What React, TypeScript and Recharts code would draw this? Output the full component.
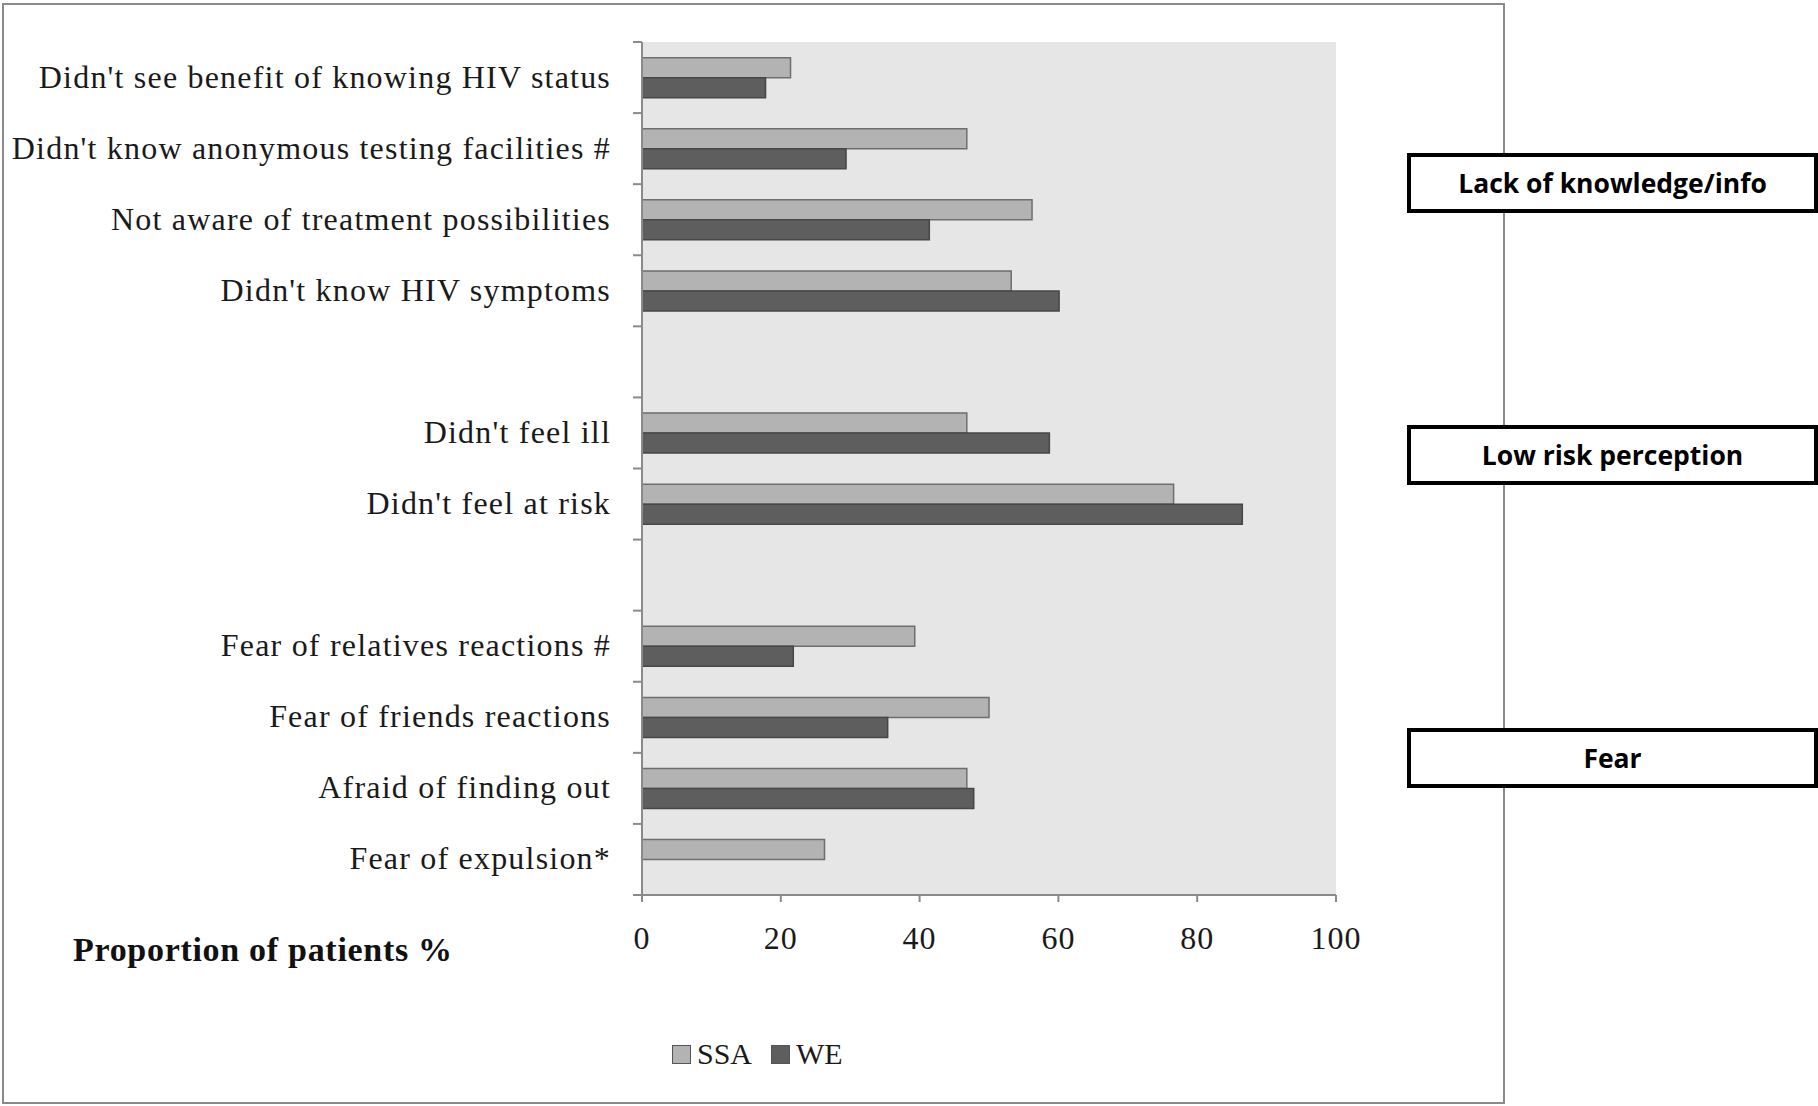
import React from "react";
import { BarChart, Bar, XAxis, YAxis, CartesianGrid, Legend } from "recharts";

const categories = [
  "Didn't see benefit of knowing HIV status",
  "Didn't know anonymous testing facilities #",
  "Not aware of treatment possibilities",
  "Didn't know HIV symptoms",
  " ",
  "Didn't feel ill",
  "Didn't feel at risk",
  "  ",
  "Fear of relatives reactions #",
  "Fear of friends reactions",
  "Afraid of finding out",
  "Fear of expulsion*",
];
const ssa = [21.4, 46.8, 56.2, 53.2, null, 46.8, 76.6, null, 39.3, 50.0, 46.8, 26.3];
const we = [17.8, 29.4, 41.4, 60.1, null, 58.7, 86.5, null, 21.8, 35.4, 47.8, null];
const xTicks = [0, 20, 40, 60, 80, 100];
const groups = ["Lack of knowledge/info", "Low risk perception", "Fear"];

const data = categories.map((name, i) => ({ name, SSA: ssa[i], WE: we[i] }));

const W = 1818;
const H = 1106;
const PLOT_TOP = 42;
const PLOT_BOTTOM = 895;
const PLOT_LEFT = 642;
const PLOT_RIGHT = 1336;
const AXIS = "#8a8a8a";
const SERIF = "'Liberation Serif', serif";

const YTick = (props: any) => {
  const { x, y, payload, index } = props;
  const band = (PLOT_BOTTOM - PLOT_TOP) / categories.length;
  const ax = x + 31;
  return (
    <g>
      <line x1={ax - 9} x2={ax} y1={y - band / 2} y2={y - band / 2} stroke={AXIS} strokeWidth={2} />
      {index === categories.length - 1 && (
        <line x1={ax - 9} x2={ax} y1={y + band / 2} y2={y + band / 2} stroke={AXIS} strokeWidth={2} />
      )}
      <text
        x={x}
        y={y}
        dy={10}
        textAnchor="end"
        fill="#1a1a1a"
        style={{ fontFamily: SERIF, fontSize: 32, letterSpacing: 1.2 }}
      >
        {payload.value}
      </text>
    </g>
  );
};

const renderLegend = (props: any) => {
  const { payload } = props;
  return (
    <div style={{ display: "flex", alignItems: "center", fontFamily: SERIF, fontSize: 30, color: "#1a1a1a" }}>
      {payload.map((p: any) => (
        <div key={p.value} style={{ display: "flex", alignItems: "center", marginRight: 19 }}>
          <span
            style={{
              display: "inline-block",
              width: 17,
              height: 17,
              background: p.color,
              border: "1px solid #555",
              marginRight: 6,
            }}
          />
          <span>{p.value}</span>
        </div>
      ))}
    </div>
  );
};

const boxTops = [153, 425, 728];

export default function App() {
  return (
    <div style={{ position: "absolute", left: 0, top: 0, width: W, height: H, background: "#fff", overflow: "hidden" }}>
      <div
        style={{
          position: "absolute",
          left: 2,
          top: 3,
          width: 1503,
          height: 1101,
          border: `2px solid ${AXIS}`,
          boxSizing: "border-box",
        }}
      />
      <div style={{ position: "absolute", left: 0, top: 0 }}>
        <BarChart
          width={W}
          height={H}
          data={data}
          layout="vertical"
          margin={{ top: PLOT_TOP, right: W - PLOT_RIGHT, bottom: H - PLOT_BOTTOM - 60, left: 0 }}
          barCategoryGap="22%"
          barGap={0}
        >
          <CartesianGrid fill="#e6e6e6" stroke="none" horizontal={false} vertical={false} />
          <XAxis
            type="number"
            domain={[0, 100]}
            ticks={xTicks}
            height={60}
            tickSize={7}
            tickMargin={24}
            axisLine={{ stroke: AXIS, strokeWidth: 2 }}
            tickLine={{ stroke: AXIS, strokeWidth: 2 }}
            tick={{ fill: "#1a1a1a", fontFamily: SERIF, fontSize: 32, letterSpacing: 1 }}
          />
          <YAxis
            type="category"
            dataKey="name"
            width={PLOT_LEFT}
            interval={0}
            tickSize={9}
            tickMargin={22}
            axisLine={{ stroke: AXIS, strokeWidth: 2 }}
            tickLine={false}
            tick={<YTick />}
          />
          <Legend
            layout="horizontal"
            verticalAlign="middle"
            align="center"
            content={renderLegend}
            wrapperStyle={{ left: 672, top: 1037, width: "auto" }}
          />
          <Bar dataKey="SSA" fill="#b3b3b3" stroke="#6e6e6e" strokeWidth={1.5} isAnimationActive={false} />
          <Bar dataKey="WE" fill="#5e5e5e" stroke="#474747" strokeWidth={1.5} isAnimationActive={false} />
        </BarChart>
      </div>
      <div
        style={{
          position: "absolute",
          left: 73,
          top: 931,
          fontFamily: SERIF,
          fontWeight: "bold",
          fontSize: 34,
          letterSpacing: 0.7,
          color: "#111",
          whiteSpace: "nowrap",
        }}
      >
        Proportion of patients %
      </div>
      {groups.map((g, i) => (
        <div
          key={g}
          style={{
            position: "absolute",
            left: 1407,
            top: boxTops[i],
            width: 411,
            height: 60,
            border: "4px solid #000",
            boxSizing: "border-box",
            background: "#fff",
            display: "flex",
            alignItems: "center",
            justifyContent: "center",
            fontFamily: "'Open Sans', sans-serif",
            fontWeight: "bold",
            fontSize: 26.5,
            color: "#000",
          }}
        >
          {g}
        </div>
      ))}
    </div>
  );
}
